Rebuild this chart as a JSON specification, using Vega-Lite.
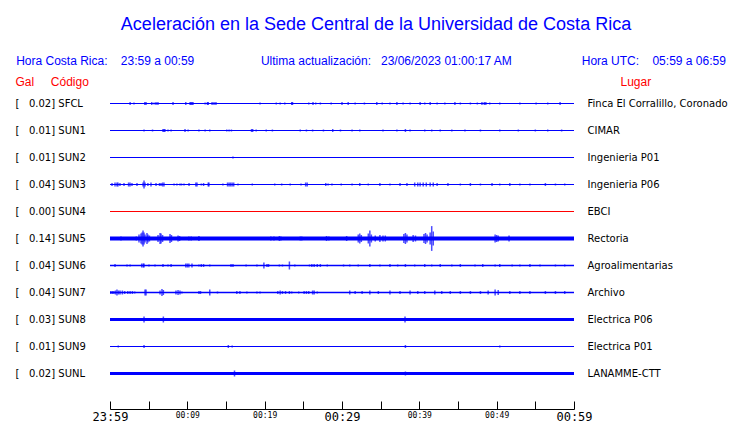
{
  "$schema": "https://vega.github.io/schema/vega-lite/v6.json",
  "width": 464,
  "height": 297,
  "autosize": "none",
  "padding": {"left": 110, "right": 166, "top": 90, "bottom": 36},
  "background": "white",
  "title": {
    "text": "\u200b\u00a0\u00a0Aceleración en la Sede Central de la Universidad de Costa Rica",
    "subtitle": "Hora Costa Rica:\u00a0\u00a0\u00a0\u00a023:59 a 00:59\u00a0\u00a0\u00a0\u00a0\u00a0\u00a0\u00a0\u00a0\u00a0\u00a0\u00a0\u00a0\u00a0\u00a0\u00a0\u00a0\u00a0\u00a0\u00a0\u00a0Ultima actualización:\u00a0\u00a0\u00a023/06/2023 01:00:17 AM\u00a0\u00a0\u00a0\u00a0\u00a0\u00a0\u00a0\u00a0\u00a0\u00a0\u00a0\u00a0\u00a0\u00a0\u00a0\u00a0\u00a0\u00a0\u00a0\u00a0\u00a0Hora UTC:\u00a0\u00a0\u00a0\u00a005:59 a 06:59",
    "anchor": "middle",
    "dx": 29,
    "offset": 8,
    "font": "Liberation Sans",
    "fontSize": 18,
    "fontWeight": "normal",
    "color": "blue",
    "subtitleFont": "Liberation Sans",
    "subtitleFontSize": 12,
    "subtitleColor": "blue",
    "subtitlePadding": 22
  },
  "datasets": {
    "estaciones": [
      {"codigo": "SFCL", "gal": 0.02, "izq": "[\u00a0\u00a0\u00a00.02] SFCL", "lugar": "Finca El Corralillo, Coronado", "ruido": 0.01},
      {"codigo": "SUN1", "gal": 0.01, "izq": "[\u00a0\u00a0\u00a00.01] SUN1", "lugar": "CIMAR", "ruido": 0.01},
      {"codigo": "SUN2", "gal": 0.01, "izq": "[\u00a0\u00a0\u00a00.01] SUN2", "lugar": "Ingenieria P01", "ruido": 0.01},
      {"codigo": "SUN3", "gal": 0.04, "izq": "[\u00a0\u00a0\u00a00.04] SUN3", "lugar": "Ingenieria P06", "ruido": 0.01},
      {"codigo": "SUN4", "gal": 0.00, "izq": "[\u00a0\u00a0\u00a00.00] SUN4", "lugar": "EBCI", "ruido": 0.01},
      {"codigo": "SUN5", "gal": 0.14, "izq": "[\u00a0\u00a0\u00a00.14] SUN5", "lugar": "Rectoria", "ruido": 0.04},
      {"codigo": "SUN6", "gal": 0.04, "izq": "[\u00a0\u00a0\u00a00.04] SUN6", "lugar": "Agroalimentarias", "ruido": 0.013},
      {"codigo": "SUN7", "gal": 0.04, "izq": "[\u00a0\u00a0\u00a00.04] SUN7", "lugar": "Archivo", "ruido": 0.013},
      {"codigo": "SUN8", "gal": 0.03, "izq": "[\u00a0\u00a0\u00a00.03] SUN8", "lugar": "Electrica P06", "ruido": 0.03},
      {"codigo": "SUN9", "gal": 0.01, "izq": "[\u00a0\u00a0\u00a00.01] SUN9", "lugar": "Electrica P01", "ruido": 0.01},
      {"codigo": "SUNL", "gal": 0.02, "izq": "[\u00a0\u00a0\u00a00.02] SUNL", "lugar": "LANAMME-CTT", "ruido": 0.03}
    ],
    "picos": [
      {"c":"SFCL","t":2.6,"a":0.015},{"c":"SFCL","t":3.1,"a":0.01},{"c":"SFCL","t":4.5,"a":0.015},{"c":"SFCL","t":4.66,"a":0.015},{"c":"SFCL","t":5.4,"a":0.015},{"c":"SFCL","t":5.7,"a":0.01},{"c":"SFCL","t":5.95,"a":0.015},{"c":"SFCL","t":6.2,"a":0.015},{"c":"SFCL","t":8.15,"a":0.015},{"c":"SFCL","t":9.8,"a":0.015},{"c":"SFCL","t":10.35,"a":0.015},{"c":"SFCL","t":10.47,"a":0.015},{"c":"SFCL","t":10.6,"a":0.015},{"c":"SFCL","t":10.73,"a":0.015},{"c":"SFCL","t":12.3,"a":0.01},{"c":"SFCL","t":12.6,"a":0.015},{"c":"SFCL","t":12.7,"a":0.015},{"c":"SFCL","t":13.2,"a":0.015},{"c":"SFCL","t":13.45,"a":0.015},{"c":"SFCL","t":13.7,"a":0.015},{"c":"SFCL","t":19.4,"a":0.01},{"c":"SFCL","t":21.5,"a":0.01},{"c":"SFCL","t":22.0,"a":0.01},{"c":"SFCL","t":22.6,"a":0.01},{"c":"SFCL","t":23.5,"a":0.015},{"c":"SFCL","t":23.6,"a":0.015},{"c":"SFCL","t":25.7,"a":0.01},{"c":"SFCL","t":26.25,"a":0.015},{"c":"SFCL","t":26.6,"a":0.01},{"c":"SFCL","t":27.2,"a":0.01},{"c":"SFCL","t":28.6,"a":0.01},{"c":"SFCL","t":30.0,"a":0.015},{"c":"SFCL","t":30.8,"a":0.015},{"c":"SFCL","t":31.7,"a":0.01},{"c":"SFCL","t":32.9,"a":0.01},{"c":"SFCL","t":34.5,"a":0.015},{"c":"SFCL","t":35.2,"a":0.01},{"c":"SFCL","t":36.2,"a":0.01},{"c":"SFCL","t":37.1,"a":0.015},{"c":"SFCL","t":37.9,"a":0.01},{"c":"SFCL","t":38.8,"a":0.01},{"c":"SFCL","t":40.1,"a":0.015},{"c":"SFCL","t":40.7,"a":0.01},{"c":"SFCL","t":41.4,"a":0.015},{"c":"SFCL","t":42.3,"a":0.01},{"c":"SFCL","t":43.3,"a":0.01},{"c":"SFCL","t":44.6,"a":0.015},{"c":"SFCL","t":45.3,"a":0.01},{"c":"SFCL","t":46.6,"a":0.01},{"c":"SFCL","t":47.5,"a":0.01},{"c":"SFCL","t":48.1,"a":0.015},{"c":"SFCL","t":48.4,"a":0.015},{"c":"SFCL","t":48.6,"a":0.015},{"c":"SFCL","t":49.1,"a":0.01},{"c":"SFCL","t":50.4,"a":0.01},{"c":"SFCL","t":53.0,"a":0.01},{"c":"SFCL","t":55.1,"a":0.01},{"c":"SFCL","t":56.6,"a":0.01},{"c":"SFCL","t":58.2,"a":0.015},
      {"c":"SUN1","t":4.4,"a":0.01},{"c":"SUN1","t":5.5,"a":0.01},{"c":"SUN1","t":6.85,"a":0.015},{"c":"SUN1","t":6.98,"a":0.015},{"c":"SUN1","t":7.1,"a":0.015},{"c":"SUN1","t":7.5,"a":0.01},{"c":"SUN1","t":7.9,"a":0.01},{"c":"SUN1","t":9.7,"a":0.015},{"c":"SUN1","t":10.1,"a":0.01},{"c":"SUN1","t":11.5,"a":0.01},{"c":"SUN1","t":12.3,"a":0.01},{"c":"SUN1","t":12.9,"a":0.01},{"c":"SUN1","t":15.1,"a":0.01},{"c":"SUN1","t":15.4,"a":0.01},{"c":"SUN1","t":15.7,"a":0.01},{"c":"SUN1","t":18.3,"a":0.015},{"c":"SUN1","t":18.45,"a":0.015},{"c":"SUN1","t":18.9,"a":0.01},{"c":"SUN1","t":20.2,"a":0.01},{"c":"SUN1","t":21.0,"a":0.01},{"c":"SUN1","t":24.6,"a":0.01},{"c":"SUN1","t":25.4,"a":0.01},{"c":"SUN1","t":26.2,"a":0.01},{"c":"SUN1","t":27.6,"a":0.01},{"c":"SUN1","t":28.8,"a":0.015},{"c":"SUN1","t":29.8,"a":0.01},{"c":"SUN1","t":31.3,"a":0.01},{"c":"SUN1","t":32.3,"a":0.01},{"c":"SUN1","t":35.3,"a":0.01},{"c":"SUN1","t":37.1,"a":0.01},{"c":"SUN1","t":38.2,"a":0.015},{"c":"SUN1","t":38.8,"a":0.01},{"c":"SUN1","t":40.7,"a":0.01},{"c":"SUN1","t":41.6,"a":0.01},{"c":"SUN1","t":42.7,"a":0.01},{"c":"SUN1","t":44.2,"a":0.01},{"c":"SUN1","t":45.9,"a":0.01},{"c":"SUN1","t":47.9,"a":0.01},{"c":"SUN1","t":50.4,"a":0.01},{"c":"SUN1","t":52.8,"a":0.01},{"c":"SUN1","t":55.0,"a":0.01},{"c":"SUN1","t":56.6,"a":0.01},{"c":"SUN1","t":58.4,"a":0.01},
      {"c":"SUN2","t":15.9,"a":0.01},
      {"c":"SUN3","t":0.26,"a":0.015},{"c":"SUN3","t":0.65,"a":0.02},{"c":"SUN3","t":0.9,"a":0.02},{"c":"SUN3","t":1.03,"a":0.02},{"c":"SUN3","t":1.29,"a":0.015},{"c":"SUN3","t":1.81,"a":0.015},{"c":"SUN3","t":2.4,"a":0.02},{"c":"SUN3","t":2.59,"a":0.02},{"c":"SUN3","t":2.84,"a":0.015},{"c":"SUN3","t":3.49,"a":0.015},{"c":"SUN3","t":4.27,"a":0.02},{"c":"SUN3","t":4.4,"a":0.04},{"c":"SUN3","t":4.53,"a":0.02},{"c":"SUN3","t":4.9,"a":0.015},{"c":"SUN3","t":5.3,"a":0.02},{"c":"SUN3","t":5.95,"a":0.015},{"c":"SUN3","t":6.4,"a":0.015},{"c":"SUN3","t":6.6,"a":0.015},{"c":"SUN3","t":6.8,"a":0.02},{"c":"SUN3","t":6.98,"a":0.02},{"c":"SUN3","t":8.28,"a":0.01},{"c":"SUN3","t":8.65,"a":0.01},{"c":"SUN3","t":9.05,"a":0.01},{"c":"SUN3","t":9.25,"a":0.01},{"c":"SUN3","t":9.57,"a":0.01},{"c":"SUN3","t":10.22,"a":0.015},{"c":"SUN3","t":11.1,"a":0.02},{"c":"SUN3","t":11.25,"a":0.02},{"c":"SUN3","t":11.8,"a":0.01},{"c":"SUN3","t":12.1,"a":0.015},{"c":"SUN3","t":12.7,"a":0.02},{"c":"SUN3","t":12.8,"a":0.02},{"c":"SUN3","t":14.6,"a":0.01},{"c":"SUN3","t":15.2,"a":0.02},{"c":"SUN3","t":15.4,"a":0.02},{"c":"SUN3","t":15.6,"a":0.02},{"c":"SUN3","t":15.8,"a":0.02},{"c":"SUN3","t":16.0,"a":0.02},{"c":"SUN3","t":16.55,"a":0.01},{"c":"SUN3","t":18.4,"a":0.01},{"c":"SUN3","t":21.3,"a":0.01},{"c":"SUN3","t":22.2,"a":0.01},{"c":"SUN3","t":23.3,"a":0.01},{"c":"SUN3","t":24.7,"a":0.01},{"c":"SUN3","t":25.3,"a":0.02},{"c":"SUN3","t":25.5,"a":0.02},{"c":"SUN3","t":27.9,"a":0.015},{"c":"SUN3","t":28.2,"a":0.01},{"c":"SUN3","t":28.7,"a":0.01},{"c":"SUN3","t":29.9,"a":0.01},{"c":"SUN3","t":31.3,"a":0.01},{"c":"SUN3","t":32.3,"a":0.015},{"c":"SUN3","t":33.4,"a":0.01},{"c":"SUN3","t":34.9,"a":0.015},{"c":"SUN3","t":36.2,"a":0.01},{"c":"SUN3","t":37.5,"a":0.015},{"c":"SUN3","t":38.4,"a":0.015},{"c":"SUN3","t":39.4,"a":0.02},{"c":"SUN3","t":39.8,"a":0.02},{"c":"SUN3","t":40.1,"a":0.02},{"c":"SUN3","t":40.5,"a":0.02},{"c":"SUN3","t":40.9,"a":0.02},{"c":"SUN3","t":41.4,"a":0.02},{"c":"SUN3","t":41.8,"a":0.02},{"c":"SUN3","t":42.3,"a":0.015},{"c":"SUN3","t":43.7,"a":0.015},{"c":"SUN3","t":45.3,"a":0.01},{"c":"SUN3","t":46.6,"a":0.015},{"c":"SUN3","t":47.9,"a":0.01},{"c":"SUN3","t":49.4,"a":0.015},{"c":"SUN3","t":50.4,"a":0.01},{"c":"SUN3","t":51.7,"a":0.015},{"c":"SUN3","t":53.0,"a":0.01},{"c":"SUN3","t":54.3,"a":0.01},{"c":"SUN3","t":56.3,"a":0.015},{"c":"SUN3","t":57.6,"a":0.01},{"c":"SUN3","t":58.8,"a":0.01},
      {"c":"SUN5","t":1.42,"a":0.02},{"c":"SUN5","t":2.5,"a":0.015},{"c":"SUN5","t":2.84,"a":0.015},{"c":"SUN5","t":3.4,"a":0.02},{"c":"SUN5","t":3.75,"a":0.04},{"c":"SUN5","t":4.0,"a":0.05},{"c":"SUN5","t":4.14,"a":0.06},{"c":"SUN5","t":4.27,"a":0.079},{"c":"SUN5","t":4.4,"a":0.06},{"c":"SUN5","t":4.53,"a":0.04},{"c":"SUN5","t":4.78,"a":0.055},{"c":"SUN5","t":4.91,"a":0.04},{"c":"SUN5","t":5.1,"a":0.03},{"c":"SUN5","t":6.21,"a":0.035},{"c":"SUN5","t":6.47,"a":0.055},{"c":"SUN5","t":6.6,"a":0.05},{"c":"SUN5","t":6.8,"a":0.035},{"c":"SUN5","t":7.76,"a":0.045},{"c":"SUN5","t":7.95,"a":0.035},{"c":"SUN5","t":8.8,"a":0.03},{"c":"SUN5","t":9.0,"a":0.025},{"c":"SUN5","t":10.2,"a":0.02},{"c":"SUN5","t":10.5,"a":0.02},{"c":"SUN5","t":11.5,"a":0.025},{"c":"SUN5","t":12.98,"a":0.01},{"c":"SUN5","t":17.4,"a":0.01},{"c":"SUN5","t":17.97,"a":0.01},{"c":"SUN5","t":18.5,"a":0.01},{"c":"SUN5","t":20.8,"a":0.02},{"c":"SUN5","t":21.2,"a":0.02},{"c":"SUN5","t":21.9,"a":0.025},{"c":"SUN5","t":22.1,"a":0.02},{"c":"SUN5","t":23.3,"a":0.01},{"c":"SUN5","t":24.6,"a":0.02},{"c":"SUN5","t":24.8,"a":0.02},{"c":"SUN5","t":26.9,"a":0.01},{"c":"SUN5","t":28.0,"a":0.025},{"c":"SUN5","t":28.3,"a":0.02},{"c":"SUN5","t":29.1,"a":0.01},{"c":"SUN5","t":30.6,"a":0.025},{"c":"SUN5","t":32.1,"a":0.04},{"c":"SUN5","t":32.3,"a":0.05},{"c":"SUN5","t":32.5,"a":0.035},{"c":"SUN5","t":32.9,"a":0.015},{"c":"SUN5","t":33.4,"a":0.05},{"c":"SUN5","t":33.6,"a":0.079},{"c":"SUN5","t":33.8,"a":0.04},{"c":"SUN5","t":34.3,"a":0.03},{"c":"SUN5","t":34.9,"a":0.035},{"c":"SUN5","t":35.3,"a":0.03},{"c":"SUN5","t":35.6,"a":0.03},{"c":"SUN5","t":36.2,"a":0.015},{"c":"SUN5","t":36.6,"a":0.015},{"c":"SUN5","t":38.0,"a":0.045},{"c":"SUN5","t":38.2,"a":0.055},{"c":"SUN5","t":38.4,"a":0.04},{"c":"SUN5","t":39.2,"a":0.035},{"c":"SUN5","t":39.5,"a":0.03},{"c":"SUN5","t":40.6,"a":0.045},{"c":"SUN5","t":40.8,"a":0.055},{"c":"SUN5","t":41.0,"a":0.04},{"c":"SUN5","t":41.4,"a":0.06},{"c":"SUN5","t":41.6,"a":0.124},{"c":"SUN5","t":41.8,"a":0.07},{"c":"SUN5","t":45.2,"a":0.01},{"c":"SUN5","t":49.8,"a":0.04},{"c":"SUN5","t":50.0,"a":0.035},{"c":"SUN5","t":50.2,"a":0.03},{"c":"SUN5","t":51.1,"a":0.015},{"c":"SUN5","t":51.6,"a":0.03},{"c":"SUN5","t":57.6,"a":0.01},
      {"c":"SUN6","t":0.65,"a":0.015},{"c":"SUN6","t":2.2,"a":0.01},{"c":"SUN6","t":2.6,"a":0.01},{"c":"SUN6","t":4.1,"a":0.02},{"c":"SUN6","t":4.3,"a":0.02},{"c":"SUN6","t":4.4,"a":0.02},{"c":"SUN6","t":5.04,"a":0.01},{"c":"SUN6","t":5.82,"a":0.01},{"c":"SUN6","t":6.85,"a":0.015},{"c":"SUN6","t":7.5,"a":0.01},{"c":"SUN6","t":7.9,"a":0.015},{"c":"SUN6","t":9.8,"a":0.02},{"c":"SUN6","t":10.0,"a":0.02},{"c":"SUN6","t":10.2,"a":0.02},{"c":"SUN6","t":10.6,"a":0.02},{"c":"SUN6","t":11.5,"a":0.01},{"c":"SUN6","t":11.8,"a":0.015},{"c":"SUN6","t":12.1,"a":0.015},{"c":"SUN6","t":12.9,"a":0.01},{"c":"SUN6","t":15.65,"a":0.015},{"c":"SUN6","t":15.9,"a":0.015},{"c":"SUN6","t":17.6,"a":0.01},{"c":"SUN6","t":19.0,"a":0.01},{"c":"SUN6","t":19.9,"a":0.03},{"c":"SUN6","t":20.3,"a":0.015},{"c":"SUN6","t":20.5,"a":0.015},{"c":"SUN6","t":21.9,"a":0.01},{"c":"SUN6","t":22.3,"a":0.01},{"c":"SUN6","t":23.2,"a":0.04},{"c":"SUN6","t":23.9,"a":0.01},{"c":"SUN6","t":25.8,"a":0.01},{"c":"SUN6","t":26.1,"a":0.015},{"c":"SUN6","t":26.4,"a":0.015},{"c":"SUN6","t":26.8,"a":0.015},{"c":"SUN6","t":27.2,"a":0.015},{"c":"SUN6","t":28.1,"a":0.01},{"c":"SUN6","t":30.2,"a":0.01},{"c":"SUN6","t":31.0,"a":0.01},{"c":"SUN6","t":32.1,"a":0.01},{"c":"SUN6","t":33.6,"a":0.015},{"c":"SUN6","t":34.9,"a":0.01},{"c":"SUN6","t":36.2,"a":0.015},{"c":"SUN6","t":37.2,"a":0.01},{"c":"SUN6","t":38.2,"a":0.015},{"c":"SUN6","t":39.4,"a":0.01},{"c":"SUN6","t":40.7,"a":0.015},{"c":"SUN6","t":41.6,"a":0.01},{"c":"SUN6","t":42.7,"a":0.015},{"c":"SUN6","t":44.2,"a":0.01},{"c":"SUN6","t":45.3,"a":0.015},{"c":"SUN6","t":47.2,"a":0.01},{"c":"SUN6","t":48.2,"a":0.015},{"c":"SUN6","t":49.8,"a":0.01},{"c":"SUN6","t":50.4,"a":0.015},{"c":"SUN6","t":52.0,"a":0.01},{"c":"SUN6","t":53.0,"a":0.01},{"c":"SUN6","t":54.3,"a":0.015},{"c":"SUN6","t":55.6,"a":0.01},{"c":"SUN6","t":57.6,"a":0.01},{"c":"SUN6","t":58.8,"a":0.01},
      {"c":"SUN7","t":0.1,"a":0.015},{"c":"SUN7","t":0.3,"a":0.015},{"c":"SUN7","t":0.5,"a":0.015},{"c":"SUN7","t":0.7,"a":0.02},{"c":"SUN7","t":0.9,"a":0.03},{"c":"SUN7","t":1.1,"a":0.02},{"c":"SUN7","t":1.3,"a":0.02},{"c":"SUN7","t":1.6,"a":0.02},{"c":"SUN7","t":1.9,"a":0.015},{"c":"SUN7","t":2.3,"a":0.015},{"c":"SUN7","t":2.6,"a":0.015},{"c":"SUN7","t":2.9,"a":0.015},{"c":"SUN7","t":3.2,"a":0.01},{"c":"SUN7","t":4.53,"a":0.03},{"c":"SUN7","t":4.66,"a":0.03},{"c":"SUN7","t":6.47,"a":0.02},{"c":"SUN7","t":6.72,"a":0.035},{"c":"SUN7","t":6.9,"a":0.025},{"c":"SUN7","t":8.53,"a":0.02},{"c":"SUN7","t":8.8,"a":0.025},{"c":"SUN7","t":9.05,"a":0.02},{"c":"SUN7","t":9.3,"a":0.01},{"c":"SUN7","t":11.5,"a":0.015},{"c":"SUN7","t":11.7,"a":0.015},{"c":"SUN7","t":12.9,"a":0.03},{"c":"SUN7","t":13.9,"a":0.01},{"c":"SUN7","t":16.4,"a":0.015},{"c":"SUN7","t":16.8,"a":0.015},{"c":"SUN7","t":17.7,"a":0.01},{"c":"SUN7","t":19.0,"a":0.01},{"c":"SUN7","t":19.4,"a":0.01},{"c":"SUN7","t":21.7,"a":0.015},{"c":"SUN7","t":22.0,"a":0.02},{"c":"SUN7","t":22.3,"a":0.015},{"c":"SUN7","t":22.7,"a":0.015},{"c":"SUN7","t":23.2,"a":0.015},{"c":"SUN7","t":23.5,"a":0.01},{"c":"SUN7","t":24.4,"a":0.01},{"c":"SUN7","t":25.1,"a":0.015},{"c":"SUN7","t":25.4,"a":0.015},{"c":"SUN7","t":25.7,"a":0.015},{"c":"SUN7","t":26.2,"a":0.02},{"c":"SUN7","t":26.4,"a":0.02},{"c":"SUN7","t":26.8,"a":0.01},{"c":"SUN7","t":31.0,"a":0.02},{"c":"SUN7","t":31.7,"a":0.015},{"c":"SUN7","t":32.6,"a":0.015},{"c":"SUN7","t":33.6,"a":0.02},{"c":"SUN7","t":34.7,"a":0.015},{"c":"SUN7","t":36.2,"a":0.02},{"c":"SUN7","t":37.5,"a":0.015},{"c":"SUN7","t":38.8,"a":0.02},{"c":"SUN7","t":39.8,"a":0.015},{"c":"SUN7","t":40.7,"a":0.015},{"c":"SUN7","t":42.0,"a":0.02},{"c":"SUN7","t":42.9,"a":0.015},{"c":"SUN7","t":44.0,"a":0.015},{"c":"SUN7","t":45.3,"a":0.015},{"c":"SUN7","t":46.6,"a":0.015},{"c":"SUN7","t":47.9,"a":0.015},{"c":"SUN7","t":48.9,"a":0.02},{"c":"SUN7","t":49.8,"a":0.03},{"c":"SUN7","t":50.2,"a":0.025},{"c":"SUN7","t":51.7,"a":0.015},{"c":"SUN7","t":53.0,"a":0.015},{"c":"SUN7","t":54.3,"a":0.015},{"c":"SUN7","t":56.3,"a":0.015},{"c":"SUN7","t":57.6,"a":0.015},{"c":"SUN7","t":58.8,"a":0.015},
      {"c":"SUN8","t":4.4,"a":0.03},{"c":"SUN8","t":6.9,"a":0.03},{"c":"SUN8","t":15.2,"a":0.015},{"c":"SUN8","t":38.15,"a":0.03},{"c":"SUN8","t":42.0,"a":0.015},{"c":"SUN8","t":50.4,"a":0.015},
      {"c":"SUN9","t":1.07,"a":0.01},{"c":"SUN9","t":4.4,"a":0.015},{"c":"SUN9","t":15.3,"a":0.015},{"c":"SUN9","t":15.8,"a":0.01},{"c":"SUN9","t":38.2,"a":0.015},{"c":"SUN9","t":50.4,"a":0.01},
      {"c":"SUNL","t":8.3,"a":0.015},{"c":"SUNL","t":16.1,"a":0.03},{"c":"SUNL","t":22.8,"a":0.015},{"c":"SUNL","t":38.2,"a":0.02},{"c":"SUNL","t":46.6,"a":0.015},{"c":"SUNL","t":53.0,"a":0.015}
    ]
  },
  "layer": [
    {
      "data": {"name": "estaciones"},
      "mark": {"type": "rule", "strokeCap": "butt"},
      "encoding": {
        "x": {
          "datum": 0, "type": "quantitative",
          "axis": {
            "orient": "bottom", "offset": 22, "values": [0,10,20,30,40,50,60],
            "grid": false, "title": null, "domain": true, "domainColor": "black", "domainWidth": 1, "domainOpacity": 1,
            "ticks": false, "tickSize": 0,
            "labelPadding": 2, "labelOverlap": false, "labelFlush": false,
            "labelFont": "DejaVu Sans Mono", "labelColor": "black", "labelBaseline": "top",
            "labelFontSize": {"condition": {"test": "datum.value % 30 === 0", "value": 12}, "value": 8},
            "labelExpr": "datum.value === 0 ? '23:59' : '00:' + (datum.value - 1 < 10 ? '0' : '') + (datum.value - 1)"
          }
        },
        "x2": {"datum": 60},
        "y": {
          "field": "izq", "type": "nominal", "sort": null,
          "scale": {"type": "point", "padding": 0.5},
          "axis": {
            "orient": "left", "domain": false, "ticks": false, "tickSize": 0,
            "labelAlign": "left", "labelPadding": 95, "labelFont": "DejaVu Sans",
            "labelFontSize": 10, "labelColor": "black", "labelBaseline": "middle",
            "title": "Gal\u00a0\u00a0\u00a0\u00a0\u00a0Código", "titleAngle": 0, "titleAlign": "left",
            "titleX": -95, "titleY": -5, "titleBaseline": "alphabetic",
            "titleFont": "Liberation Sans", "titleFontSize": 12, "titleFontWeight": "normal", "titleColor": "red"
          }
        },
        "strokeWidth": {"field": "ruido", "type": "quantitative", "scale": {"domain": [0, 0.04], "range": [0, 4]}, "legend": null},
        "color": {"condition": {"test": "datum.gal === 0", "value": "red"}, "value": "blue"}
      }
    },
    {
      "data": {"name": "picos"},
      "mark": {"type": "tick", "orient": "vertical", "thickness": 1.5, "color": "blue"},
      "encoding": {
        "x": {
          "field": "t", "type": "quantitative",
          "scale": {"domain": [0, 60], "nice": false, "zero": false},
          "axis": {
            "orient": "top", "offset": -319, "values": [0,5,10,15,20,25,30,35,40,45,50,55,60],
            "grid": false, "title": null, "labels": false, "domain": false, "ticks": true,
            "tickColor": "black", "tickSize": 8, "tickWidth": 1
          }
        },
        "y": {
          "field": "c", "type": "nominal",
          "scale": {"type": "point", "padding": 0.5, "domain": ["SFCL","SUN1","SUN2","SUN3","SUN4","SUN5","SUN6","SUN7","SUN8","SUN9","SUNL"]},
          "axis": null
        },
        "size": {"field": "a", "type": "quantitative", "scale": {"domain": [0, 0.1], "range": [0, 20]}, "legend": null}
      }
    },
    {
      "data": {"name": "estaciones"},
      "mark": {"type": "point", "opacity": 0},
      "encoding": {
        "x": {"datum": 60, "type": "quantitative", "axis": null},
        "y": {
          "field": "lugar", "type": "nominal", "sort": null,
          "scale": {"type": "point", "padding": 0.5},
          "axis": {
            "orient": "right", "domain": false, "ticks": false, "tickSize": 0,
            "labelAlign": "left", "labelPadding": 13, "labelFont": "DejaVu Sans",
            "labelFontSize": 10, "labelColor": "black", "labelBaseline": "middle",
            "title": "Lugar", "titleAngle": 0, "titleAlign": "left",
            "titleX": 46, "titleY": -5, "titleBaseline": "alphabetic",
            "titleFont": "Liberation Sans", "titleFontSize": 12, "titleFontWeight": "normal", "titleColor": "red"
          }
        }
      }
    }
  ],
  "resolve": {"scale": {"y": "independent", "size": "independent", "strokeWidth": "independent"}, "axis": {"y": "independent", "x": "independent"}},
  "config": {"view": {"stroke": null}, "axis": {"domainColor": "black"}}
}
